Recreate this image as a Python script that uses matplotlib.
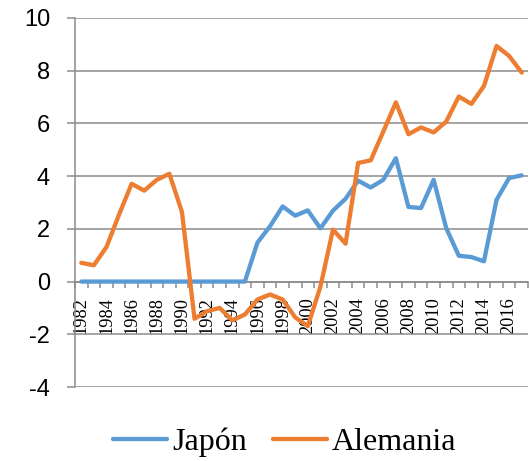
import matplotlib
matplotlib.use("Agg")
import matplotlib.pyplot as plt
import numpy as np

years = list(range(1982, 2018))
japon = [0, 0, 0, 0, 0, 0, 0, 0, 0, 0, 0, 0, 0, 0,
         1.48, 2.1, 2.85, 2.5, 2.7, 2.02, 2.69, 3.14, 3.83, 3.57, 3.86, 4.68,
         2.83, 2.79, 3.86, 2.03, 0.98, 0.93, 0.77, 3.1, 3.93, 4.03]
alemania = [0.71, 0.62, 1.31, 2.54, 3.71, 3.45, 3.86, 4.09, 2.64, -1.41,
            -1.12, -1.0, -1.47, -1.25, -0.68, -0.49, -0.68, -1.36, -1.69, -0.2,
            1.97, 1.44, 4.5, 4.6, 5.69, 6.8, 5.59, 5.85, 5.66, 6.07,
            7.02, 6.74, 7.42, 8.94, 8.56, 7.93]
yticks = [-4, -2, 0, 2, 4, 6, 8, 10]

BLUE = "#5B9BD5"
ORANGE = "#ED7D31"
GRAY = "#8C8C8C"

fig = plt.figure(figsize=(5.29, 4.61), dpi=100)
ax = fig.add_axes([75/529, 74/461, 453/529, 369/461])

x = np.arange(len(years))
ax.plot(x, japon, color=BLUE, lw=3.1, label="Japón", solid_capstyle="round", zorder=3)
ax.plot(x, alemania, color=ORANGE, lw=3.1, label="Alemania", solid_capstyle="round", zorder=3)

ax.set_xlim(-0.5, len(years) - 0.5)
ax.set_ylim(-4, 10)
ax.set_yticks(yticks)
ax.set_yticklabels([str(v) for v in yticks], fontsize=17, family="Liberation Sans")
ax.yaxis.grid(True, color=GRAY, lw=1.1)
ax.set_axisbelow(True)

for s in ["top", "right"]:
    ax.spines[s].set_visible(False)
ax.spines["left"].set_color(GRAY)
ax.spines["left"].set_linewidth(1.1)
ax.spines["bottom"].set_position(("data", 0))
ax.spines["bottom"].set_color(GRAY)
ax.spines["bottom"].set_linewidth(1.1)

ax.tick_params(axis="y", direction="out", length=6, width=1.1, color=GRAY, pad=12)

# major ticks at category boundaries, labels at even-year centres
ax.set_xticks(np.arange(-0.5, len(years) + 0.5, 1.0))
ax.set_xticklabels([])
ax.tick_params(axis="x", which="major", direction="out", length=4, width=1.1, color=GRAY)
lab_pos = [i for i, yv in enumerate(years) if yv % 2 == 0]
ax.set_xticks(lab_pos, minor=True)
ax.set_xticklabels([str(years[i]) for i in lab_pos], minor=True, rotation=90,
                   fontsize=13.2, family="Liberation Serif", va="top", ha="center")
ax.tick_params(axis="x", which="minor", length=0, pad=11)

fig.legend(loc="center", bbox_to_anchor=(0.538, 0.041), ncol=2, frameon=False,
           prop={"family": "Liberation Serif", "size": 23},
           handlelength=1.7, handletextpad=0.15, columnspacing=0.8)

fig.savefig("out.png", dpi=100)
